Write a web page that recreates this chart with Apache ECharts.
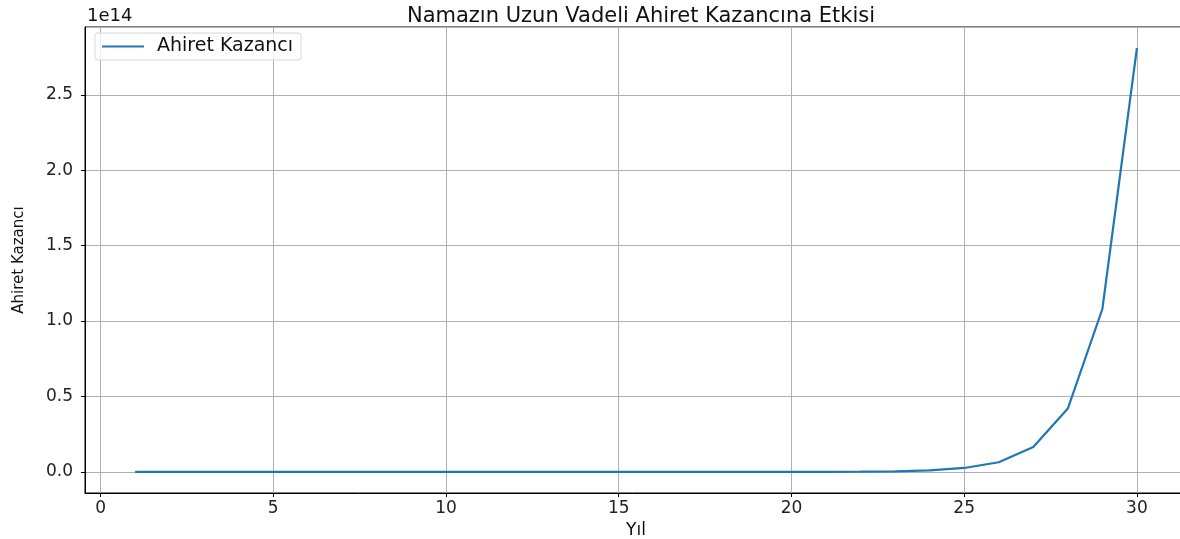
<!DOCTYPE html>
<html>
<head>
<meta charset="utf-8">
<script src="https://cdn.jsdelivr.net/npm/echarts@6/dist/echarts.min.js"></script>
<style>html,body{margin:0;padding:0;background:#fff;}#c{width:1180px;height:539px;}</style>
</head>
<body>
<div id="c"></div>
<script>
const years = [1,2,3,4,5,6,7,8,9,10,11,12,13,14,15,16,17,18,19,20,21,22,23,24,25,26,27,28,29,30];
const ahiretKazanci = [2.8e2,7.2e2,1.9e3,4.9e3,1.3e4,3.3e4,8.5e4,2.2e5,5.8e5,1.5e6,3.9e6,1.0e7,2.6e7,6.8e7,1.8e8,4.6e8,1.2e9,3.1e9,8.0e9,2.1e10,5.4e10,1.4e11,3.6e11,9.5e11,2.6e12,6.4e12,1.65e13,4.2e13,1.08e14,2.81e14];
const titleText = 'Namazın Uzun Vadeli Ahiret Kazancına Etkisi';
const seriesName = 'Ahiret Kazancı';
const xName = 'Yıl';
const yName = 'Ahiret Kazancı';
const offsetText = '1e14';

const FONT = 'DejaVu Sans';
const chart = echarts.init(document.getElementById('c'), null, {renderer: 'canvas'});
chart.setOption({
  animation: false,
  backgroundColor: '#fff',
  title: {
    text: titleText, left: 636, top: 1, textAlign: 'center',
    textStyle: {fontFamily: FONT, fontSize: 21, fontWeight: 'normal', color: '#111'}
  },
  legend: {
    data: [{name: seriesName, icon: 'rect'}],
    left: 95, top: 33, orient: 'vertical',
    itemWidth: 42, itemHeight: 2, itemGap: 10,
    padding: [4, 8, 4, 7],
    borderColor: '#d6d6d6', borderWidth: 1, borderRadius: 3, backgroundColor: 'rgba(255,255,255,0.8)',
    textStyle: {fontFamily: FONT, fontSize: 19, color: '#111', padding: [0, 0, 0, 8]}
  },
  grid: {left: 85, top: 27, width: 1102, height: 466, outerBoundsMode: 'none', containLabel: false,
    show: true, borderColor: '#000', borderWidth: 1, backgroundColor: 'transparent'},
  graphic: [{
    type: 'text', left: 87, top: 7,
    style: {text: offsetText, font: '18px "DejaVu Sans"', fill: '#111'}
  }],
  xAxis: {
    type: 'value', min: -0.45, max: 31.45,
    name: xName, nameLocation: 'middle', nameGap: 29,
    nameTextStyle: {fontFamily: FONT, fontSize: 17, color: '#111'},
    axisLine: {show: true, onZero: false, lineStyle: {color: '#000', width: 1}},
    axisTick: {show: true, length: 4, lineStyle: {color: '#000'}},
    axisLabel: {fontFamily: FONT, fontSize: 17, color: '#222', margin: 7, showMinLabel: false, showMaxLabel: false},
    splitLine: {show: true, lineStyle: {color: '#b0b0b0', width: 1}}
  },
  yAxis: {
    type: 'value', min: -1.4e13, max: 2.95e14,
    name: yName, nameLocation: 'middle', nameGap: 58, nameRotate: 90,
    nameTextStyle: {fontFamily: FONT, fontSize: 15, color: '#111'},
    axisLine: {show: true, onZero: false, lineStyle: {color: '#000', width: 1}},
    axisTick: {show: true, length: 4, lineStyle: {color: '#000'}},
    axisLabel: {fontFamily: FONT, fontSize: 17, color: '#222', margin: 12, showMinLabel: false, showMaxLabel: false,
      formatter: v => (v / 1e14).toFixed(1)},
    splitLine: {show: true, lineStyle: {color: '#b0b0b0', width: 1}}
  },
  series: [{
    name: seriesName, type: 'line',
    data: years.map((y, i) => [y, ahiretKazanci[i]]),
    showSymbol: false, symbol: 'none',
    lineStyle: {color: '#1f77b4', width: 2.2},
    itemStyle: {color: '#1f77b4'}
  }]
});
</script>
</body>
</html>
